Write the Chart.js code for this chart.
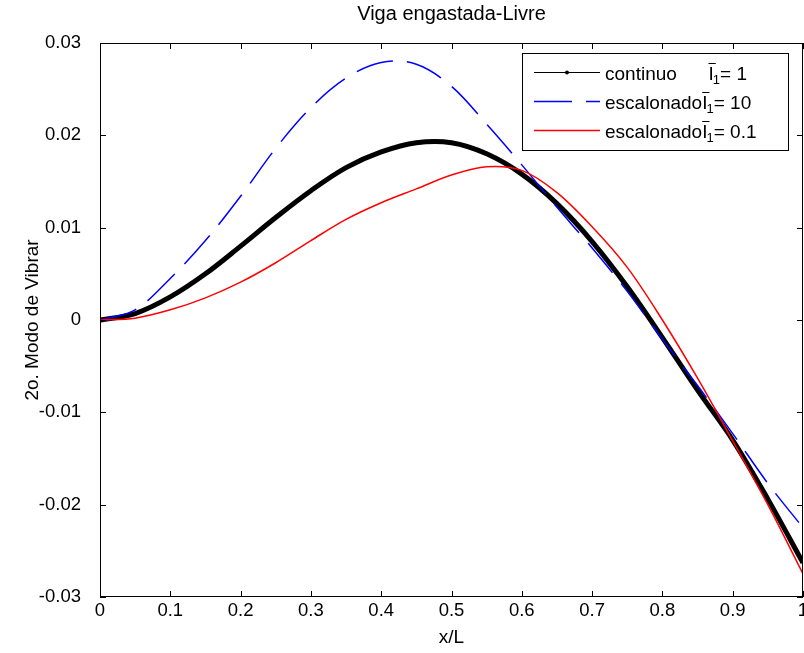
<!DOCTYPE html>
<html>
<head>
<meta charset="utf-8">
<title>Viga engastada-Livre</title>
<script src="https://cdn.jsdelivr.net/npm/chart.js@4.4.1/dist/chart.umd.min.js"></script>
<style>
    html, body { margin: 0; padding: 0; background: #fff; }
    #chart-area { width: 804px; height: 653px; }
</style>
</head>
<body>
<div id="chart-area"><canvas id="modo" width="804" height="653"></canvas></div>
<script>
// x/L stations and the three mode shapes
var xL = [0, 0.05, 0.1, 0.15, 0.2, 0.25, 0.3, 0.35, 0.4, 0.45, 0.5,
    0.55, 0.6, 0.65, 0.7, 0.75, 0.8, 0.85, 0.9, 0.95, 1];
var continuo = [0, 0.0007, 0.0025, 0.0050, 0.0080, 0.0111, 0.0140, 0.0165, 0.0182, 0.0192, 0.0192,
    0.0180, 0.0158, 0.0126, 0.0085, 0.0036, -0.0019, -0.0076, -0.0130, -0.0194, -0.0263];
var escalonado10 = [0, 0.0011, 0.0045, 0.0086, 0.0134, 0.0186, 0.0230, 0.0262, 0.0279, 0.0277, 0.0253,
    0.0212, 0.0168, 0.0122, 0.0078, 0.0031, -0.0021, -0.0071, -0.0123, -0.0177, -0.0225];
var escalonado01 = [0, 0.0002, 0.0011, 0.0024, 0.0041, 0.0062, 0.0086, 0.0109, 0.0127, 0.0142, 0.0157,
    0.0166, 0.0162, 0.0138, 0.0101, 0.0057, 0.0000, -0.0063, -0.0131, -0.0200, -0.0275];

var seriesNames = ['continuo      ', 'escalonado', 'escalonado'];
var seriesI1 = ['1', '10', '0.1'];

var xTicks = [0, 0.1, 0.2, 0.3, 0.4, 0.5, 0.6, 0.7, 0.8, 0.9, 1];
var yTicks = [-0.03, -0.02, -0.01, 0, 0.01, 0.02, 0.03];

var fontFamily = "'Liberation Sans', Arial, Helvetica, sans-serif";

function toPoints(ys) {
    var ret = [];
    for (var i = 0; i < xL.length; i++) {
        ret.push({ x: xL[i], y: ys[i] });
    }
    return ret;
}

function tickText(v) {
    var r = Math.round(v * 100) / 100;
    return r === 0 ? '0' : String(r);
}

// closed box with inward tick marks, like the original axes
var caixaPlugin = {
    id: 'caixa',
    afterDatasetsDraw: function (chart) {
        var ctx = chart.ctx;
        var a = chart.chartArea;
        var xs = chart.scales.x;
        var ys = chart.scales.y;
        var len = 6;
        ctx.save();
        ctx.strokeStyle = '#000';
        ctx.lineWidth = 1;
        ctx.strokeRect(a.left + 0.5, a.top + 0.5, a.right - a.left - 1, a.bottom - a.top - 1);
        ctx.beginPath();
        xTicks.forEach(function (v) {
            var px = Math.round(xs.getPixelForValue(v)) + 0.5;
            ctx.moveTo(px, a.top);
            ctx.lineTo(px, a.top + len);
            ctx.moveTo(px, a.bottom);
            ctx.lineTo(px, a.bottom - len);
        });
        yTicks.forEach(function (v) {
            var py = Math.round(ys.getPixelForValue(v)) + 0.5;
            ctx.moveTo(a.left, py);
            ctx.lineTo(a.left + len, py);
            ctx.moveTo(a.right, py);
            ctx.lineTo(a.right - len, py);
        });
        ctx.stroke();
        ctx.restore();
    }
};

// boxed legend in the upper right corner of the axes
var legendaPlugin = {
    id: 'legenda',
    afterDraw: function (chart) {
        var ctx = chart.ctx;
        var a = chart.chartArea;
        var sets = chart.data.datasets;
        var w = 266, rowH = 29;
        var right = a.right - 15;
        var left = right - w;
        var top = a.top + 10;
        var h = 19 + rowH * (sets.length - 1) + 20;
        var big = '19px ' + fontFamily;
        var small = '13px ' + fontFamily;

        ctx.save();
        ctx.fillStyle = '#fff';
        ctx.fillRect(left, top, w, h);
        ctx.strokeStyle = '#000';
        ctx.lineWidth = 1;
        ctx.strokeRect(left + 0.5, top + 0.5, w, h);

        ctx.textBaseline = 'middle';
        for (var i = 0; i < sets.length; i++) {
            var ds = sets[i];
            var cy = Math.round(top + 19 + i * rowH) + 0.5;
            ctx.strokeStyle = ds.borderColor;
            ctx.lineWidth = i === 0 ? 1 : ds.borderWidth;
            ctx.setLineDash(ds.borderDash || []);
            ctx.beginPath();
            ctx.moveTo(left + 12, cy);
            ctx.lineTo(left + 78, cy);
            ctx.stroke();
            ctx.setLineDash([]);
            if (i === 0) {
                ctx.fillStyle = ds.borderColor;
                ctx.beginPath();
                ctx.arc(left + 45, cy, 2, 0, Math.PI * 2);
                ctx.fill();
            }

            var tx = left + 83;
            var ty = cy + 2;
            ctx.fillStyle = '#000';
            ctx.font = big;
            ctx.fillText(seriesNames[i], tx, ty);
            var ix = tx + ctx.measureText(seriesNames[i]).width;
            ctx.fillText('I', ix, ty);
            var iw = ctx.measureText('I').width;
            ctx.beginPath();
            ctx.strokeStyle = '#000';
            ctx.lineWidth = 1;
            ctx.moveTo(ix, ty - 11);
            ctx.lineTo(ix + iw + 2, ty - 11);
            ctx.stroke();
            ctx.font = small;
            ctx.fillText('1', ix + iw - 1, ty + 6);
            var sw = ctx.measureText('1').width;
            ctx.font = big;
            ctx.fillText('= ' + seriesI1[i], ix + iw + sw - 1, ty);
        }
        ctx.restore();
    }
};

Chart.defaults.font.family = fontFamily;
Chart.defaults.font.size = 19;
Chart.defaults.color = '#000';

var ctx = document.getElementById('modo').getContext('2d');
var modoChart = new Chart(ctx, {
    type: 'line',
    data: {
        datasets: [{
            label: seriesNames[0].trim() + ' I1= ' + seriesI1[0],
            data: toPoints(continuo),
            borderColor: '#000000',
            borderWidth: 5,
            order: 3
        }, {
            label: seriesNames[1] + ' I1= ' + seriesI1[1],
            data: toPoints(escalonado10),
            borderColor: '#0000ff',
            borderWidth: 1.5,
            borderDash: [38, 14],
            order: 2
        }, {
            label: seriesNames[2] + ' I1= ' + seriesI1[2],
            data: toPoints(escalonado01),
            borderColor: '#ff0000',
            borderWidth: 1.5,
            order: 1
        }]
    },
    options: {
        responsive: false,
        animation: false,
        devicePixelRatio: 1,
        layout: { padding: { left: 0, right: 1, top: 0, bottom: 0 } },
        elements: {
            point: { radius: 0, hoverRadius: 0 },
            line: { tension: 0.35, fill: false }
        },
        plugins: {
            legend: { display: false },
            tooltip: { enabled: false },
            title: {
                display: true,
                fullSize: false,
                text: 'Viga engastada-Livre',
                color: '#000',
                font: { size: 20, weight: 'normal' },
                padding: { top: 2, bottom: 17 }
            }
        },
        scales: {
            x: {
                type: 'linear',
                min: 0,
                max: 1,
                afterBuildTicks: function (scale) {
                    scale.ticks = xTicks.map(function (v) { return { value: v }; });
                },
                ticks: {
                    padding: -5,
                    maxRotation: 0,
                    autoSkip: false,
                    font: { size: 18.5 },
                    callback: function (v) { return tickText(v); }
                },
                grid: { display: false },
                border: { display: false },
                title: {
                    display: true,
                    text: 'x/L',
                    font: { size: 19 },
                    padding: { top: 0, bottom: 4 }
                },
                afterFit: function (scale) {
                    scale.height = 56;
                    scale.paddingLeft = 0;
                    scale.paddingRight = 0;
                }
            },
            y: {
                type: 'linear',
                min: -0.03,
                max: 0.03,
                afterBuildTicks: function (scale) {
                    scale.ticks = yTicks.map(function (v) { return { value: v }; });
                },
                ticks: {
                    padding: 11,
                    autoSkip: false,
                    font: { size: 18.5 },
                    callback: function (v) { return tickText(v); }
                },
                grid: { display: false },
                border: { display: false },
                title: {
                    display: true,
                    text: '2o. Modo de Vibrar',
                    font: { size: 19 },
                    padding: { top: 21, bottom: 0 }
                },
                afterFit: function (scale) {
                    scale.width = 100;
                    scale.paddingTop = 0;
                    scale.paddingBottom = 0;
                }
            }
        }
    },
    plugins: [caixaPlugin, legendaPlugin]
});
</script>
</body>
</html>
